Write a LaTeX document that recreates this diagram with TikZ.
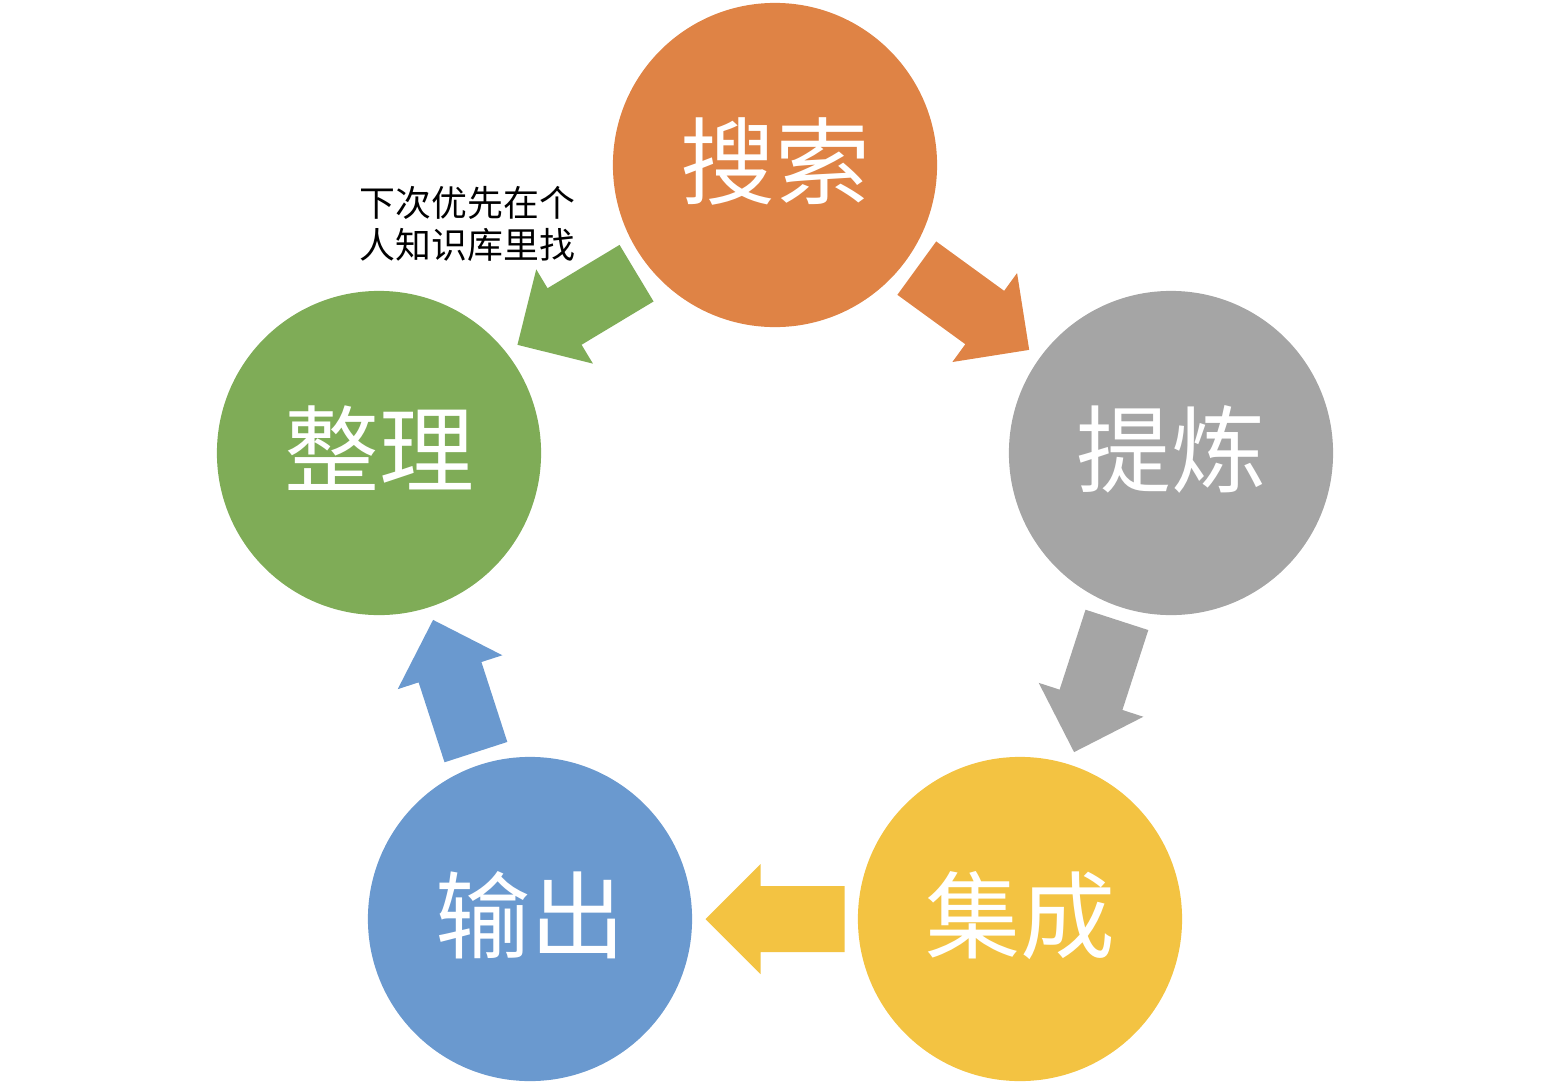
\documentclass[tikz,border=0pt]{standalone}
\usepackage{fontspec}
\usepackage{tikz}
\usetikzlibrary{calc}
\newfontfamily\cjk{Noto Sans CJK SC}
\definecolor{srchorange}{HTML}{DF8345}
\definecolor{refgray}{HTML}{A5A5A5}
\definecolor{intyellow}{HTML}{F3C342}
\definecolor{outblue}{HTML}{6A99CF}
\definecolor{orggreen}{HTML}{7FAC57}
\tikzset{
  stage/.style={circle, minimum size=3.24cm, inner sep=0pt, text=white,
    text height=19pt, text depth=0.5pt,
    font=\cjk\fontsize{27}{29}\selectfont},
  note/.style={align=left, inner sep=0pt, font=\cjk\fontsize{10.2}{11.8}\selectfont},
}
% block arrow half way between two circles, [extra turn]
\newcommand\cyclearrow[4][0]{%
  \path let \p1=($(#3)-(#2)$) in
    \pgfextra{\pgfmathparse{atan2(\y1,\x1)+#1}\global\let\arrowangle\pgfmathresult};
  \fill[#4, shift={($(#2)!0.5!(#3)$)}, rotate=\arrowangle]
    (-69.5,-33) -- (14.5,-33) -- (14.5,-55) -- (69.5,0)
    -- (14.5,55) -- (14.5,33) -- (-69.5,33) -- cycle;
}

\begin{document}
\begin{tikzpicture}[x=0.01cm, y=-0.01cm]
\useasboundingbox (0,0) rectangle (1550,1084);
% circles
\node[stage, fill=srchorange] (sousuo) at (775,165) {搜索};
\node[stage, fill=refgray] (tilian) at (1171,453) {提炼};
\node[stage, fill=intyellow] (jicheng) at (1020,919) {集成};
\node[stage, fill=outblue] (shuchu) at (530,919) {输出};
\node[stage, fill=orggreen] (zhengli) at (379,453) {整理};
%% arrows
\cyclearrow{sousuo}{tilian}{srchorange}
\cyclearrow{tilian}{jicheng}{refgray}
\cyclearrow{jicheng}{shuchu}{intyellow}
\cyclearrow{shuchu}{zhengli}{outblue}
\cyclearrow[-5]{sousuo}{zhengli}{orggreen}
\node[note, anchor=west] (hint) at (359,224) {下次优先在个\\人知识库里找};

\end{tikzpicture}
\end{document}
